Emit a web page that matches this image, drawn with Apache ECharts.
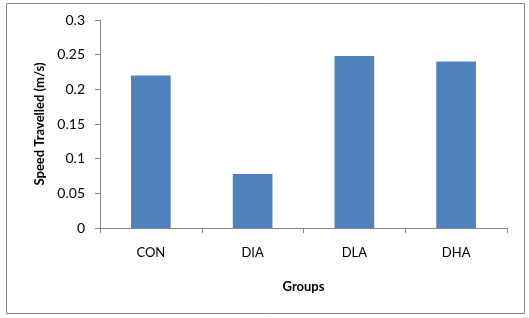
<!DOCTYPE html>
<html><head><meta charset="utf-8">
<script src="https://cdn.jsdelivr.net/npm/echarts@6/dist/echarts.min.js"></script>
<style>html,body{margin:0;padding:0;background:#fff}#c{width:529px;height:318px}</style>
</head><body><div id="c"></div>
<script>
const categories = ['CON', 'DIA', 'DLA', 'DHA'];
const speeds = [0.22, 0.078, 0.248, 0.24];
const yTicks = [0, 0.05, 0.1, 0.15, 0.2, 0.25, 0.3];

const chart = echarts.init(document.getElementById('c'), null, {renderer: 'canvas'});
const font = 'Lato, "Open Sans", "Noto Sans", sans-serif';
chart.setOption({
  animation: false,
  backgroundColor: '#fff',
  graphic: [{type: 'rect', shape: {x: 6.5, y: 3.5, width: 518, height: 310}, style: {fill: 'none', stroke: '#898989', lineWidth: 1}, silent: true}],
  grid: {left: 100, right: 22, top: 20, bottom: 90, containLabel: false},
  xAxis: {
    type: 'category', data: categories,
    name: 'Groups', nameLocation: 'middle', nameGap: 52,
    nameTextStyle: {fontFamily: font, fontWeight: 'bold', fontSize: 13, color: '#000'},
    axisLine: {lineStyle: {color: '#868686'}},
    axisTick: {show: true, length: 5, lineStyle: {color: '#868686'}},
    axisLabel: {fontFamily: font, fontSize: 13, color: '#000', margin: 18}
  },
  yAxis: {
    type: 'value', min: 0, max: 0.3, interval: 0.05,
    name: 'Speed Travelled (m/s)', nameLocation: 'middle', nameGap: 54, nameRotate: 90,
    nameTextStyle: {fontFamily: font, fontWeight: 'bold', fontSize: 13, color: '#000'},
    axisLine: {show: true, lineStyle: {color: '#868686'}},
    axisTick: {show: true, length: 5, lineStyle: {color: '#868686'}},
    splitLine: {show: false},
    axisLabel: {fontFamily: font, fontSize: 14, color: '#000', margin: 15,
      formatter: v => { const t = yTicks.find(x => Math.abs(x - v) < 1e-9); return String(t !== undefined ? t : v); }}
  },
  series: [{type: 'bar', data: speeds, barWidth: '39%', itemStyle: {color: '#4F81BD'}}]
});
</script></body></html>
